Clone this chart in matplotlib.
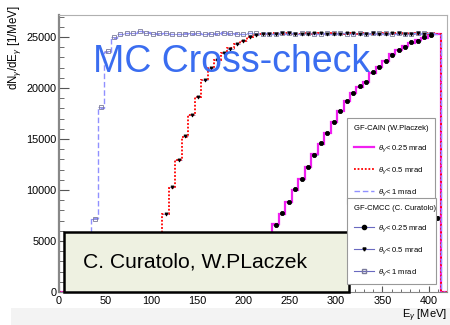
import numpy as np
import matplotlib
matplotlib.use("Agg")
import matplotlib.pyplot as plt
from matplotlib.patches import Rectangle
from matplotlib.lines import Line2D

plt.rcParams['font.family'] = ['Liberation Sans', 'DejaVu Sans']
plt.rcParams['mathtext.fontset'] = 'custom'
plt.rcParams['mathtext.rm'] = 'Liberation Sans'
plt.rcParams['mathtext.it'] = 'Liberation Sans:italic'

# 7 MeV bins from 0 to 420 MeV
edges = np.arange(0, 421, 7)
centers = edges[:-1] + 3.5

# GF-CAIN (W.Placzek)
cain_1mrad = [0, 0, 0, 0, 0, 7250, 18000, 23500, 24900, 25250,
              25400, 25350, 25600, 25450, 25350, 25300, 25400, 25300, 25250, 25350,
              25300, 25400, 25250, 25350, 25300, 25450, 25300, 25350, 25250, 25400,
              25300, 25350, 25300, 25250, 25400, 25300, 25350, 25300, 25400, 25250,
              25350, 25300, 25300, 25400, 25350, 25250, 25300, 25350, 25300, 25400,
              25300, 25350, 25300, 25250, 25350, 25300, 25400, 25350, 25300, 0]
cain_05mrad = [0, 0, 0, 0, 0, 0, 0, 0, 0, 0,
               0, 0, 0, 0, 2600, 5100, 7650, 10200, 12940, 15200,
               17350, 19100, 20800, 21960, 22750, 23400, 23900, 24300, 24650, 24950,
               25150, 25300, 25250, 25350, 25300, 25400, 25300, 25250, 25350, 25300,
               25400, 25300, 25350, 25250, 25300, 25400, 25300, 25350, 25300, 25250,
               25350, 25300, 25400, 25300, 25350, 25300, 25250, 25350, 25300, 0]
cain_025mrad = [0, 0, 0, 0, 0, 0, 0, 0, 0, 0,
                0, 0, 0, 0, 0, 0, 0, 0, 0, 0,
                0, 0, 0, 0, 0, 0, 0, 200, 1200, 2300,
                3400, 4500, 5600, 6640, 7650, 8850, 10000, 11080, 12290, 13500,
                14540, 15590, 16640, 17780, 18730, 19540, 20100, 20600, 21500, 22100,
                22600, 23300, 23700, 24100, 24450, 24700, 24900, 25250, 25300, 0]

# GF-CMCC (C. Curatolo)
cmcc_1mrad = [0, 0, 0, 0, 0, 7200, 18100, 23600, 24950, 25300,
              25350, 25400, 25550, 25400, 25300, 25350, 25350, 25250, 25300, 25300,
              25350, 25350, 25300, 25300, 25350, 25400, 25350, 25300, 25300, 25350,
              25350, 25300, 25250, 25300, 25350, 25350, 25300, 25350, 25350, 25300,
              25300, 25350, 25350, 25350, 25300, 25300, 25350, 25300, 25350, 25350,
              25350, 25300, 25350, 25300, 25300, 25350, 25350, 25300, 7300, 0]
cmcc_05mrad = [0, 0, 0, 0, 0, 0, 0, 0, 0, 0,
               0, 0, 0, 0, 2550, 5150, 7600, 10250, 12900, 15250,
               17300, 19150, 20750, 22000, 22700, 23450, 23850, 24350, 24600, 25000,
               25200, 25250, 25300, 25300, 25350, 25350, 25250, 25300, 25300, 25350,
               25350, 25250, 25300, 25300, 25350, 25350, 25250, 25300, 25350, 25300,
               25300, 25350, 25350, 25250, 25300, 25350, 25300, 25300, 7300, 0]
cmcc_025mrad = [0, 0, 0, 0, 0, 0, 0, 0, 0, 0,
                0, 0, 0, 0, 0, 0, 0, 0, 0, 0,
                0, 0, 0, 0, 0, 0, 0, 250, 1150, 2350,
                3350, 4550, 5550, 6600, 7700, 8800, 10050, 11050, 12300, 13450,
                14600, 15550, 16700, 17750, 18750, 19500, 20150, 20550, 21550, 22050,
                22650, 23250, 23750, 24050, 24500, 24650, 24950, 25200, 7300, 0]

fig = plt.figure(figsize=(4.5, 3.25), dpi=100)
ax = fig.add_axes([59 / 450, 33 / 325, 388 / 450, 277 / 325])

# grey strip under the frame
fig.add_artist(Rectangle((0.024, 0), 0.976, 0.052, transform=fig.transFigure,
                         facecolor='#f3f3f3', edgecolor='none', zorder=-1))

magenta = '#f020f0'
red = '#ff0000'
lblue = '#9090ff'
cmcc_line = '#6a6ac0'

ax.stairs(cain_025mrad, edges, color=magenta, lw=1.6, zorder=2)
ax.stairs(cain_05mrad, edges, color=red, lw=1.3, linestyle=(0, (1, 1)), zorder=2)
ax.stairs(cain_1mrad, edges, color=lblue, lw=1.0, linestyle=(0, (4, 2)), zorder=2)


def draw_cmcc(vals, marker, ms, mfc, mec):
    vals = np.asarray(vals, dtype=float)
    m = vals > 0
    ax.errorbar(centers[m], vals[m], xerr=3.5, fmt='none', ecolor=cmcc_line,
                elinewidth=0.5, zorder=1.5)
    ax.plot(centers[m], vals[m], linestyle='none', marker=marker, ms=ms,
            mfc=mfc, mec=mec, mew=0.6, zorder=3)


draw_cmcc(cmcc_1mrad, 's', 3.0, 'none', '#7a7a9a')
draw_cmcc(cmcc_05mrad, 'v', 2.2, 'black', 'black')
draw_cmcc(cmcc_025mrad, 'o', 3.0, 'black', 'black')

ax.set_xlim(0, 420)
ax.set_ylim(0, 27150)
ax.set_xticks(np.arange(0, 401, 50))
ax.set_xticks(np.arange(0, 421, 10), minor=True)
ax.set_yticks(np.arange(0, 25001, 5000))
ax.set_yticks(np.arange(0, 27001, 1000), minor=True)
ax.tick_params(axis='both', which='both', direction='in', colors='#555555',
               labelcolor='black', labelsize=7.8)
ax.tick_params(axis='x', which='major', length=4, pad=3)
ax.tick_params(axis='x', which='minor', length=2.5)
ax.tick_params(axis='y', which='major', length=7.5, pad=2)
ax.tick_params(axis='y', which='minor', length=3.7)
ax.spines['left'].set_color('#888888')
ax.spines['left'].set_linewidth(1.6)
ax.spines['bottom'].set_color('#888888')
for s in ('top', 'right'):
    ax.spines[s].set_color('#b0b0b0')
    ax.spines[s].set_linewidth(0.8)

fig.text(0.033, 0.985, r'dN$_\gamma$/dE$_\gamma$ [1/MeV]', rotation=90,
         ha='center', va='top', fontsize=8.3)
fig.text(0.993, 0.028, r'E$_\gamma$ [MeV]', ha='right', va='center', fontsize=8)

# legends
h_cain = [Line2D([], [], color=magenta, lw=1.6),
          Line2D([], [], color=red, lw=1.3, linestyle=(0, (1, 1))),
          Line2D([], [], color=lblue, lw=1.0, linestyle=(0, (4, 2)))]
h_cmcc = [Line2D([], [], color=cmcc_line, lw=0.8, marker='o', ms=3.0, mfc='black', mec='black'),
          Line2D([], [], color=cmcc_line, lw=0.8, marker='v', ms=2.2, mfc='black', mec='black'),
          Line2D([], [], color=cmcc_line, lw=0.8, marker='s', ms=3.0, mfc='none', mec='#7a7a9a')]
labels = [r'$\theta_\gamma$< 0.25 mrad', r'$\theta_\gamma$< 0.5 mrad', r'$\theta_\gamma$< 1 mrad']

leg_kw = dict(loc='upper left', mode='expand', fontsize=5.5, title_fontsize=5.5,
              alignment='left', labelspacing=1.45, borderpad=0.9, handlelength=2.6,
              handletextpad=0.6, fancybox=False, framealpha=1, edgecolor='#999999',
              borderaxespad=0)
leg1 = ax.legend(h_cain, labels, title='GF-CAIN (W.Placzek)',
                 bbox_to_anchor=(0.742, 0.628, 0.227, 0.0), **leg_kw)
leg1.get_frame().set_linewidth(0.8)
leg1.set_zorder(6)
ax.add_artist(leg1)
leg2 = ax.legend(h_cmcc, labels, title='GF-CMCC (C. Curatolo)',
                 bbox_to_anchor=(0.742, 0.339, 0.23, 0.0), **leg_kw)
leg2.get_frame().set_linewidth(0.8)
leg2.set_zorder(6)

# author box
ax.add_patch(Rectangle((0.0129, 0.0), 0.7345, 0.2166, transform=ax.transAxes,
                       facecolor='#eef1e1', edgecolor='black', lw=1.8,
                       clip_on=False, zorder=5))
fig.text(83 / 450, 0.178, 'C. Curatolo, W.PLaczek', fontsize=15.2,
         va='baseline', ha='left', zorder=7)

fig.text(93 / 450, 0.778, 'MC Cross-check', color='#3a6df0', fontsize=27,
         va='baseline', ha='left', zorder=7)

fig.savefig('out.png', dpi=100)
